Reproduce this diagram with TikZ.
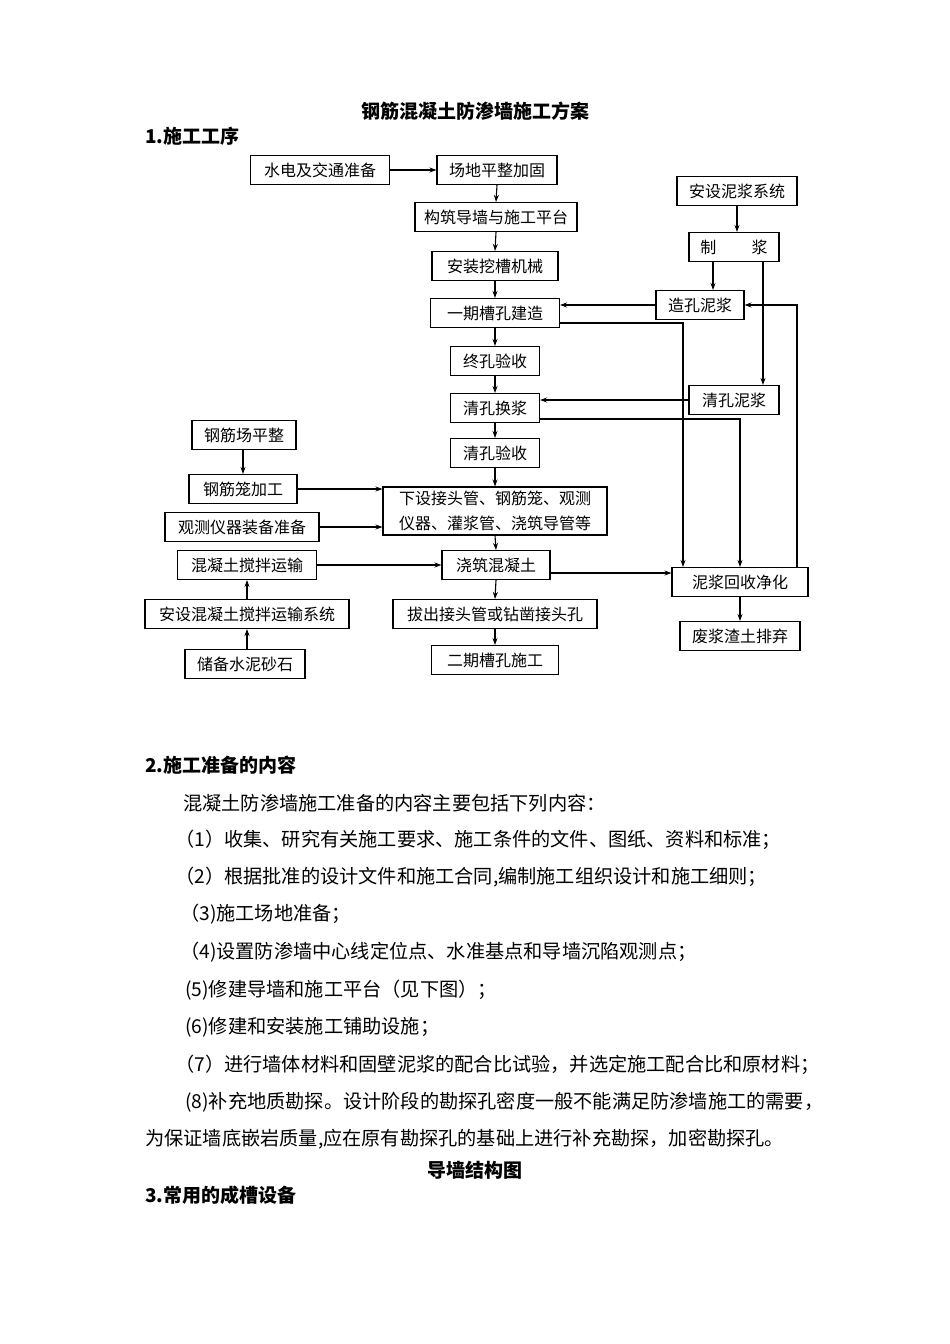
\documentclass[tikz,border=0pt]{standalone}
\usepackage{fontspec}
\setmainfont{Noto Sans CJK SC}
\usetikzlibrary{arrows.meta}
\tikzset{
  box/.style={draw, line width=1.1pt, minimum height=29pt, inner sep=0pt, font=\fontsize{16}{18}\selectfont},
  ln/.style={line width=1.1pt},
  arr/.style={ln, -{Stealth[length=7pt,width=5pt]}},
  head/.style={anchor=west, inner sep=0pt, font=\bfseries\fontsize{19}{19}\selectfont},
  body/.style={anchor=west, inner sep=0pt, font=\fontsize{19.2}{19.2}\selectfont}
}
\begin{document}
\begin{tikzpicture}[x=1pt,y=-1pt]
\useasboundingbox (0,0) rectangle (950,1344);
\fill[white] (0,0) rectangle (950,1344);
% headings
\node[inner sep=0pt, font=\bfseries\fontsize{19}{19}\selectfont] (title) at (475,111) {钢筋混凝土防渗墙施工方案};
\node[head] (h1) at (145,136) {1.施工工序};
% main chain
\node[box, minimum width=139pt] (s1) at (320,170) {水电及交通准备};
\node[box, minimum width=120pt] (s2) at (497,170) {场地平整加固};
\node[box, minimum width=162pt] (s3) at (496,217) {构筑导墙与施工平台};
\node[box, minimum width=126pt] (s4) at (495,266) {安装挖槽机械};
\node[box, minimum width=129pt] (s5) at (495,313) {一期槽孔建造};
\node[box, minimum width=89pt] (s6) at (495,361) {终孔验收};
\node[box, minimum width=89pt] (s7) at (495,408) {清孔换浆};
\node[box, minimum width=89pt] (s8) at (495,453) {清孔验收};
\node[box, minimum width=224pt, minimum height=48pt, align=center, font=\fontsize{16}{25}\selectfont] (s9) at (495,511) {下设接头管、钢筋笼、观测\\仪器、灌浆管、浇筑导管等};
\node[box, minimum width=108pt] (s10) at (496,565) {浇筑混凝土};
\node[box, minimum width=204pt] (s11) at (495,614) {拔出接头管或钻凿接头孔};
\node[box, minimum width=127pt] (s12) at (495,660) {二期槽孔施工};
% right side
\node[box, minimum width=120pt] (s13) at (737,191) {安设泥浆系统};
\node[box, minimum width=90pt] (s14) at (734,247) {制\hspace{2.2em}浆};
\node[box, minimum width=88pt] (s15) at (700,305) {造孔泥浆};
\node[box, minimum width=90pt] (s16) at (734,400) {清孔泥浆};
\node[box, minimum width=136pt] (s17) at (740,582) {泥浆回收净化};
\node[box, minimum width=120pt] (s18) at (740,636) {废浆渣土排弃};
% left side
\node[box, minimum width=104pt] (s19) at (244,435) {钢筋场平整};
\node[box, minimum width=108pt] (s20) at (243,489) {钢筋笼加工};
\node[box, minimum width=154pt] (s21) at (242,527) {观测仪器装备准备};
\node[box, minimum width=139pt] (s22) at (247,565) {混凝土搅拌运输};
\node[box, minimum width=204pt] (s23) at (247,614) {安设混凝土搅拌运输系统};
\node[box, minimum width=120pt] (s24) at (245,664) {储备水泥砂石};
% connectors main chain
\draw[arr] (s1.east) -- (s2.west);
\draw[arr] (s2.south) -- (s3.north);
\draw[arr] (s3.south) -- (s4.north);
\draw[arr] (s4.south) -- (s5.north);
\draw[arr] (s5.south) -- (s6.north);
\draw[arr] (s6.south) -- (s7.north);
\draw[arr] (s7.south) -- (s8.north);
\draw[arr] (s8.south) -- (s9.north);
\draw[arr] (s9.south) -- (s10.north);
\draw[arr] (s10.south) -- (s11.north);
\draw[arr] (s11.south) -- (s12.north);
% right connectors
\draw[arr] (s13.south) -- (s13.south |- s14.north);
\draw[arr] ([xshift=-21pt]s14.south) -- ([xshift=-21pt]s14.south |- s15.north);
\draw[arr] ([xshift=29pt]s14.south) -- ([xshift=29pt]s14.south |- s16.north);
\draw[arr] (s15.west) -- (s15.west -| s5.east);
\draw[arr] (s16.west) -- (s16.west -| s7.east);
\draw[arr] ([yshift=-10pt]s5.east) -| ([xshift=-57pt]s17.north);
\draw[arr] ([yshift=-11pt]s7.east) -| (s17.north);
\draw[arr] ([xshift=57pt]s17.north) |- (s15.east);
\draw[arr] ([yshift=-8pt]s10.east) -- ([yshift=-8pt]s10.east -| s17.west);
\draw[arr] (s17.south) -- (s18.north);
% left connectors
\draw[arr] (s19.south -| s20.north) -- (s20.north);
\draw[arr] (s20.east) -- (s20.east -| s9.west);
\draw[arr] (s21.east) -- (s21.east -| s9.west);
\draw[arr] (s22.east) -- (s22.east -| s10.west);
\draw[arr] (s23.north) -- (s22.south);
\draw[arr] (s24.north -| s23.south) -- (s23.south);
% section 2
\node[head] (h2) at (145,765) {2.施工准备的内容};
\node[body] (p0) at (183,803) {混凝土防渗墙施工准备的内容主要包括下列内容：};
\node[body] (p1) at (175,840) {（1）收集、研究有关施工要求、施工条件的文件、图纸、资料和标准；};
\node[body] (p2) at (175,877) {（2）根据批准的设计文件和施工合同,编制施工组织设计和施工细则；};
\node[body] (p3) at (180,914) {（3)施工场地准备；};
\node[body] (p4) at (180,952) {（4)设置防渗墙中心线定位点、水准基点和导墙沉陷观测点；};
\node[body] (p5) at (185,990) {(5)修建导墙和施工平台（见下图）；};
\node[body] (p6) at (185,1027) {(6)修建和安装施工铺助设施；};
\node[body] (p7) at (175,1065) {（7）进行墙体材料和固壁泥浆的配合比试验，并选定施工配合比和原材料；};
\node[body] (p8) at (185,1102) {(8)补充地质勘探。设计阶段的勘探孔密度一般不能满足防渗墙施工的需要，};
\node[body] (p9) at (145,1139) {为保证墙底嵌岩质量,应在原有勘探孔的基础上进行补充勘探，加密勘探孔。};
\node[inner sep=0pt, font=\bfseries\fontsize{19}{19}\selectfont] (cap) at (475,1170) {导墙结构图};
\node[head] (h3) at (145,1195) {3.常用的成槽设备};
\end{tikzpicture}
\end{document}
